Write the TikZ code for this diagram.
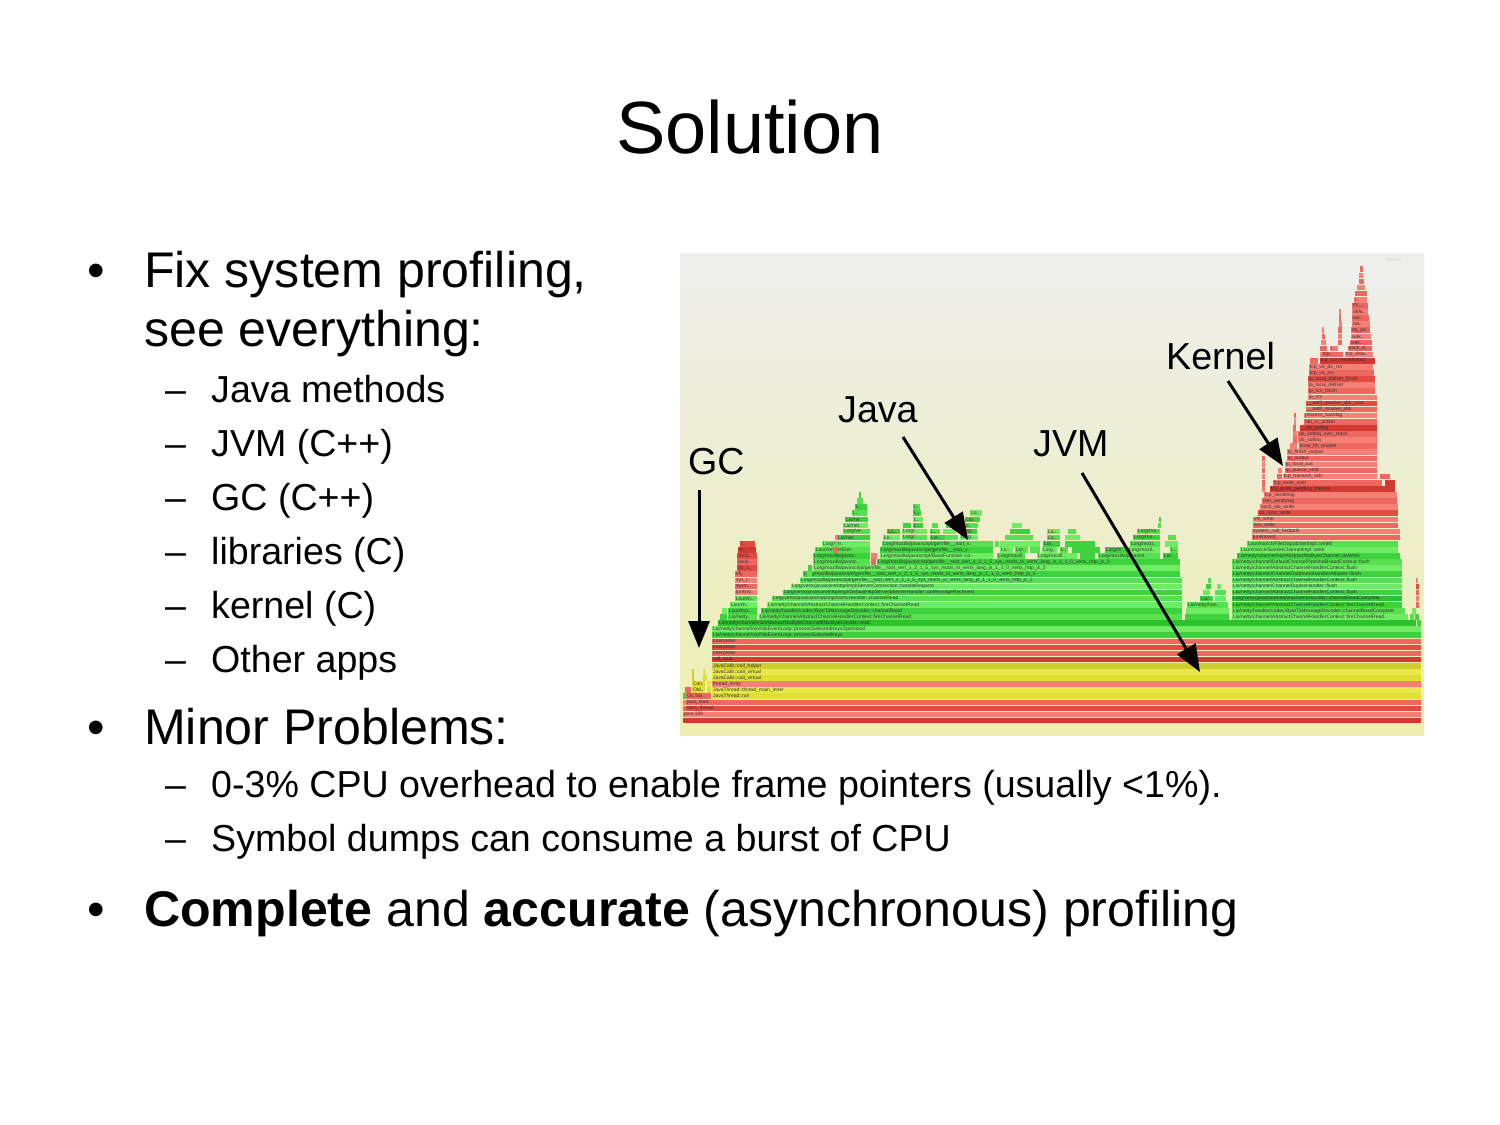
\documentclass[tikz,border=0pt]{standalone}
\usepackage{fontspec}
\setmainfont{Liberation Sans}
\usetikzlibrary{arrows.meta}

\definecolor{fgtop}{RGB}{238,238,238}
\definecolor{fgbot}{RGB}{238,238,176}
\definecolor{redA}{RGB}{226,74,66}
\definecolor{redB}{RGB}{236,104,96}
\definecolor{redC}{RGB}{246,128,118}
\definecolor{redD}{RGB}{212,56,50}
\definecolor{greenA}{RGB}{62,210,62}
\definecolor{greenB}{RGB}{88,224,80}
\definecolor{greenC}{RGB}{112,236,100}
\definecolor{greenD}{RGB}{44,194,44}
\definecolor{yelA}{RGB}{224,224,52}
\definecolor{yelB}{RGB}{206,206,44}
\definecolor{yelC}{RGB}{232,232,74}

\tikzset{
  flab/.style={anchor=west, inner sep=0pt, font=\fontsize{5}{5}\selectfont, text=black!80},
  lone/.style={anchor=base west, inner sep=0pt, font=\fontsize{50.1}{60}\selectfont},
  ltwo/.style={anchor=base west, inner sep=0pt, font=\fontsize{37.6}{45}\selectfont},
  pointer/.style={line width=3pt, -{Triangle[length=27pt,width=21pt]}},
}

% one frame of the flame graph: row, left, right, colour, label
\newcommand\fgbox[5]{%
  \fill[#4] (#2,{723.4-6.1*#1}) rectangle (#3,{717.8-6.1*#1});
  \node[flab] (f#1-#2) at ({#2+0.8},{720.6-6.1*#1}) {#5};}
\newcommand\jsgen{Lorg/mozilla/javascript/gen/file\_\_root\_vert\_x\_2\_1\_5\_sys\_mods\_io\_vertx\_lang\_js\_1\_1\_0\_vertx\_http\_js\_2}

\begin{document}
\begin{tikzpicture}[x=1pt,y=-1pt]
  \fill[white] (0,0) rectangle (1500,1125);
  \useasboundingbox (0,0) rectangle (1500,1125);

  \node[anchor=base, inner sep=0pt, font=\fontsize{74}{80}\selectfont] (title) at (750,153) {Solution};

  % bullets
  \node[lone] (b1) at (87,287) {•};
  \node[lone] (fix) at (144,287) {Fix system profiling,};
  \node[lone] (see) at (144,346) {see everything:};
  \foreach \i/\y/\t in {1/402/Java methods, 2/456/JVM (C++), 3/510/GC (C++),
                        4/564/libraries (C), 5/618/kernel (C), 6/672/Other apps}
  {
    \node[ltwo] (d\i) at (165,\y) {–};
    \node[ltwo] (s\i) at (211,\y) {\t};
  }
  \node[lone] (b2) at (87,744) {•};
  \node[lone] (minor) at (144,744) {Minor Problems:};
  \node[ltwo] (d7) at (165,797) {–};
  \node[ltwo] (s7) at (211,797) {0-3\% CPU overhead to enable frame pointers (usually <1\%).};
  \node[ltwo] (d8) at (165,851) {–};
  \node[ltwo] (s8) at (211,851) {Symbol dumps can consume a burst of CPU};
  \node[lone] (b3) at (87,926) {•};
  \node[lone] (full) at (144,926) {\bfseries Complete\mdseries{} and \bfseries accurate\mdseries{} (asynchronous) profiling};

  % flame graph
  \shade[top color=fgtop, bottom color=fgbot] (680,253) rectangle (1424,735);
  \node[flab, text=black!15] (search) at (1386,260) {Search};

  \fgbox{0}{683}{1421}{redD}{}
  \fgbox{1}{683}{1421}{redC}{java-339}
  \fgbox{2}{683}{685.5}{redB}{}
  \fgbox{2}{686}{1421}{redA}{start\_thread}
  \fgbox{3}{683}{685.5}{redC}{}
  \fgbox{3}{686}{1421}{redB}{java\_start}
  \fgbox{4}{683}{685.5}{greenA}{}
  \fgbox{4}{686}{711}{redB}{GCTas..}
  \fgbox{4}{712}{1421}{yelA}{JavaThread::run}
  \fgbox{5}{685}{691}{redB}{}
  \fgbox{5}{692}{705}{yelA}{Old..}
  \fgbox{5}{712}{1421}{yelC}{JavaThread::thread\_main\_inner}
  \fgbox{6}{692}{705}{yelA}{Con..}
  \fgbox{6}{712}{1421}{redC}{thread\_entry}
  \fgbox{7}{712}{1421}{yelA}{JavaCalls::call\_virtual}
  \fgbox{8}{712}{1421}{yelC}{JavaCalls::call\_virtual}
  \fgbox{9}{712}{1421}{yelB}{JavaCalls::call\_helper}
  \fgbox{10}{712}{1421}{redD}{call\_stub}
  \fgbox{11}{712}{1421}{redB}{Interpreter}
  \fgbox{12}{712}{1421}{redA}{Interpreter}
  \fgbox{13}{712}{1421}{redB}{Interpreter}
  \fgbox{14}{712}{1421}{greenA}{Lio/netty/channel/nio/NioEventLoop::processSelectedKeys}
  \fgbox{15}{712}{1421}{greenC}{Lio/netty/channel/nio/NioEventLoop::processSelectedKeysOptimized}
  \fgbox{16}{718}{1416}{greenD}{Lio/netty/channel/nio/AbstractNioByteChannel\$NioByteUnsafe::read}

  % small stack left of the java tower
  \fgbox{17}{728}{757}{greenB}{Lio/netty..}
  \fgbox{18}{728}{757}{greenA}{Lsun/mo..}
  \fgbox{19}{730}{757}{greenC}{Lsun/n..}
  \fgbox{20}{735}{757}{greenB}{Lsun/n..}
  \fgbox{21}{735}{757}{redC}{[unkno..}
  \fgbox{22}{735}{757}{redB}{sysm..}
  \fgbox{23}{735}{757}{redC}{sys\_r..}
  \fgbox{24}{735}{757}{redB}{vfs..}
  \fgbox{25}{737}{757}{redA}{do\_s..}
  \fgbox{26}{737}{757}{redB}{sock..}
  \fgbox{27}{737}{757}{redA}{sock..}
  \fgbox{28}{738}{756}{redD}{in..}
  \fgbox{29}{740}{755}{redA}{t..}

  % java tower
  \fgbox{17}{759}{1182}{greenB}{Lio/netty/channel/AbstractChannelHandlerContext::fireChannelRead}
  \fgbox{18}{761}{1182}{greenA}{Lio/netty/handler/codec/ByteToMessageDecoder::channelRead}
  \fgbox{19}{767}{1182}{greenC}{Lio/netty/channel/AbstractChannelHandlerContext::fireChannelRead}
  \fgbox{20}{772}{1182}{greenB}{Lorg/vertx/java/core/net/impl/VertxHandler::channelRead}
  \fgbox{21}{783}{1182}{greenA}{Lorg/vertx/java/core/http/impl/DefaultHttpServer\$ServerHandler::doMessageReceived}
  \fgbox{22}{791}{1182}{greenC}{Lorg/vertx/java/core/http/impl/ServerConnection::handleRequest}
  \fgbox{23}{800}{1182}{greenB}{\jsgen}
  \fgbox{24}{803}{1180}{greenA}{\jsgen}
  \fgbox{25}{813}{1180}{greenC}{\jsgen}
  \fgbox{26}{813}{870}{greenB}{Lorg/mozilla/javasc..}
  \fgbox{26}{877}{1180}{greenA}{\jsgen}
  \fgbox{27}{813}{870}{greenA}{Lorg/mozilla/javas..}
  \fgbox{27}{880}{993}{greenC}{Lorg/mozilla/javascript/BaseFunction::co..}
  \fgbox{27}{997}{1025}{greenB}{Lorg/mozill..}
  \fgbox{27}{1037}{1077}{greenC}{Lorg/mozill..}
  \fgbox{27}{1098}{1160}{greenB}{Lorg/mozilla/javascri..}
  \fgbox{27}{1163}{1178}{greenA}{Lor..}
  \fgbox{28}{815}{870}{greenB}{Lsun/reflect/Del..}
  \fgbox{28}{880}{993}{greenA}{Lorg/mozilla/javascript/gen/file\_\_root\_v..}
  \fgbox{28}{1000}{1013}{greenC}{Lo..}
  \fgbox{28}{1015}{1028}{greenB}{Lor..}
  \fgbox{28}{1042}{1057}{greenC}{Lorg..}
  \fgbox{28}{1060}{1068}{greenB}{L..}
  \fgbox{28}{1105}{1127}{greenA}{Lorg/m..}
  \fgbox{28}{1128}{1160}{greenC}{Lorg/mozil..}
  \fgbox{28}{1170}{1178}{greenB}{L..}
  \fgbox{29}{822}{870}{greenC}{Lorg/ver..}
  \fgbox{29}{882}{993}{greenB}{Lorg/mozilla/javascript/gen/file\_\_root\_v..}
  \fgbox{29}{1043}{1060}{greenA}{Lor..}
  \fgbox{29}{1130}{1160}{greenB}{Lorg/mozi..}
  \fgbox{30}{837}{870}{greenA}{Lio/net..}
  \fgbox{30}{883}{900}{greenC}{Lo..}
  \fgbox{30}{902}{927}{greenB}{Lorg/..}
  \fgbox{30}{930}{945}{greenA}{Lor..}
  \fgbox{30}{960}{978}{greenC}{Lorg..}
  \fgbox{30}{1047}{1060}{greenB}{Lo..}
  \fgbox{30}{1133}{1160}{greenA}{Lorg/mo..}
  \fgbox{31}{843}{870}{greenB}{Lorg/ve..}
  \fgbox{31}{887}{900}{greenA}{Lo..}
  \fgbox{31}{902}{927}{greenC}{Lorg/..}
  \fgbox{31}{930}{940}{greenB}{L..}
  \fgbox{31}{960}{977}{greenA}{Lorg..}
  \fgbox{31}{1047}{1060}{greenC}{Lo..}
  \fgbox{31}{1137}{1160}{greenB}{Lorg/ma..}
  \fgbox{32}{843}{868}{greenC}{Lio/net..}
  \fgbox{32}{913}{923}{greenA}{L..}
  \fgbox{32}{962}{978}{greenB}{Lo..}
  \fgbox{33}{845}{868}{greenA}{Lio/ne..}
  \fgbox{33}{913}{923}{greenC}{L..}
  \fgbox{33}{965}{980}{greenA}{Lor..}
  \fgbox{34}{852}{867}{greenB}{L..}
  \fgbox{34}{913}{921}{greenA}{L..}
  \fgbox{34}{970}{982}{greenC}{Lo..}
  \fgbox{35}{855}{867}{greenA}{L..}
  \fgbox{35}{913}{920}{greenB}{L..}

  % middle cluster and right write tower
  \fgbox{17}{1185}{1229}{greenA}{}
  \fgbox{18}{1186}{1229}{greenC}{}
  \fgbox{19}{1187}{1228}{greenB}{Lio/netty/han..}
  \fgbox{20}{1200}{1213}{greenA}{Lio/..}
  \fgbox{17}{1232}{1408}{greenC}{Lio/netty/channel/AbstractChannelHandlerContext::fireChannelRead..}
  \fgbox{18}{1232}{1405}{greenB}{Lio/netty/handler/codec/ByteToMessageDecoder::channelReadComplete}
  \fgbox{19}{1232}{1402}{greenA}{Lio/netty/channel/AbstractChannelHandlerContext::fireChannelRead..}
  \fgbox{20}{1232}{1402}{greenD}{Lorg/vertx/java/core/net/impl/VertxHandler::channelReadComplete}
  \fgbox{21}{1232}{1402}{greenA}{Lio/netty/channel/AbstractChannelHandlerContext::flush}
  \fgbox{22}{1232}{1402}{greenC}{Lio/netty/channel/ChannelDuplexHandler::flush}
  \fgbox{23}{1232}{1402}{greenB}{Lio/netty/channel/AbstractChannelHandlerContext::flush}
  \fgbox{24}{1232}{1402}{greenA}{Lio/netty/channel/ChannelOutboundHandlerAdapter::flush}
  \fgbox{25}{1232}{1402}{greenC}{Lio/netty/channel/AbstractChannelHandlerContext::flush}
  \fgbox{26}{1232}{1402}{greenB}{Lio/netty/channel/DefaultChannelPipeline\$HeadContext::flush}
  \fgbox{27}{1237}{1400}{greenA}{Lio/netty/channel/nio/AbstractNioByteChannel::doWrite}
  \fgbox{28}{1240}{1398}{greenC}{Lsun/nio/ch/SocketChannelImpl::write}
  \fgbox{29}{1247}{1398}{greenB}{Lsun/nio/ch/FileDispatcherImpl::write0}
  \fgbox{30}{1252}{1400}{redB}{[unknown]}
  \fgbox{31}{1252}{1400}{redC}{system\_call\_fastpath}
  \fgbox{32}{1253}{1398}{redB}{sys\_write}
  \fgbox{33}{1253}{1398}{redC}{vfs\_write}
  \fgbox{34}{1258}{1398}{redA}{do\_sync\_write}
  \fgbox{35}{1260}{1398}{redC}{sock\_aio\_write}
  \fgbox{36}{1262}{1397}{redB}{inet\_sendmsg}
  \fgbox{37}{1264}{1397}{redC}{tcp\_sendmsg}
  \fgbox{38}{1270}{1395}{redD}{tcp\_push\_pending\_frames}
  \fgbox{39}{1273}{1382}{redB}{tcp\_write\_xmit}
  \fgbox{40}{1283}{1377}{redC}{tcp\_transmit\_skb}
  \fgbox{41}{1285}{1377}{redB}{ip\_queue\_xmit}
  \fgbox{42}{1285}{1377}{redC}{ip\_local\_out}
  \fgbox{43}{1287}{1377}{redB}{ip\_output}
  \fgbox{44}{1287}{1377}{redC}{ip\_finish\_output}
  \fgbox{45}{1299}{1377}{redB}{local\_bh\_enable}
  \fgbox{46}{1298}{1377}{redC}{do\_softirq}
  \fgbox{47}{1298}{1377}{redB}{do\_softirq\_own\_stack}
  \fgbox{48}{1300}{1377}{redD}{\_\_do\_softirq}
  \fgbox{49}{1304}{1377}{redB}{net\_rx\_action}
  \fgbox{50}{1304}{1377}{redC}{process\_backlog}
  \fgbox{51}{1306}{1377}{redB}{\_\_netif\_receive\_skb}
  \fgbox{52}{1306}{1377}{redA}{\_\_netif\_receive\_skb\_core}
  \fgbox{53}{1308}{1377}{redC}{ip\_rcv}
  \fgbox{54}{1308}{1375}{redB}{ip\_rcv\_finish}
  \fgbox{55}{1308}{1375}{redC}{ip\_local\_deliver}
  \fgbox{56}{1308}{1375}{redA}{ip\_local\_deliver\_finish}
  \fgbox{57}{1309}{1374}{redB}{tcp\_v4\_rcv}
  \fgbox{58}{1309}{1373}{redC}{tcp\_v4\_do\_rcv}
  \fgbox{59}{1320}{1375}{redD}{tcp\_rcv\_established}
  \fgbox{60}{1322}{1343}{redB}{tcp..}
  \fgbox{60}{1345}{1373}{redC}{tcp\_data..}
  \fgbox{61}{1330}{1338}{redC}{t..}
  \fgbox{61}{1348}{1372}{redB}{sock\_d..}
  \fgbox{62}{1350}{1372}{redB}{wak..}
  \fgbox{63}{1351}{1371}{redC}{wak..}
  \fgbox{64}{1351}{1370}{redB}{ep\_po..}
  \fgbox{65}{1352}{1370}{redC}{wa..}
  \fgbox{66}{1352}{1369}{redB}{wa..}
  \fgbox{67}{1352}{1368}{redC}{defa..}
  \fgbox{68}{1352}{1368}{redB}{try\_..}
  \fgbox{69}{1354}{1367}{redC}{t..}

  % unlabelled slivers
  \foreach \k/\a/\b/\c in {7/703/707/yelA, 8/703/706/yelC, 7/692/694/yelB, 8/692/693.5/yelB,
      6/707/711/yelC, 5/707/711/yelA, 16/1417/1421/greenA, 17/1410/1414/greenB, 17/1415/1419/greenA,
      18/1412/1416/greenC, 19/1416/1419/redB, 20/1416/1419/redC, 21/1416/1418.5/redB,
      22/1416/1418.5/redA, 23/1416/1418/redC, 17/720/727/greenA, 18/722/727/greenC,
      21/1215/1226/greenB, 21/1203/1210/greenC, 22/1206/1211/greenA, 23/1208/1211/greenB,
      20/1215/1226/greenC, 22/1217/1221/greenC,
      24/807/812/greenB, 25/808/812/greenA, 26/871/876/redB, 27/871/877/redC,
      28/833/837/redB, 29/835/838/greenB, 30/835/837/redC, 28/1072/1100/greenA, 29/1000/1040/greenC,
      29/1065/1095/greenA, 30/1005/1033/greenB, 31/1010/1030/greenA, 32/1012/1022/greenC,
      27/1080/1095/greenA, 30/945/958/greenB, 31/943/956/greenC, 32/946/952/greenA,
      29/995/999/greenB, 30/1065/1080/greenC, 31/1068/1076/greenB, 28/1030/1040/greenB,
      29/1165/1178/greenC, 30/1168/1176/greenB, 32/1158/1161/greenB, 33/1159/1161/greenA,
      32/903/911/greenA, 36/857/863/greenB, 37/859/861/greenA, 32/932/938/greenB,
      36/1378/1386/redB, 37/1380/1390/redC, 39/1385/1395/redD, 40/1380/1390/redB,
      38/1262/1265/redC, 39/1262/1265/redB, 40/1262/1265/redC, 41/1262/1265/redB,
      42/1262/1265/redC, 43/1262/1265/redB, 40/1277/1282/redB, 41/1278/1282/redC,
      45/1290/1297/redC, 46/1293/1297/redB, 47/1293/1297/redC, 48/1293/1296/redB,
      49/1294/1296/redC, 50/1294/1296/redB, 59/1310/1318/redB, 60/1320/1321.5/redC,
      61/1320/1327/redB, 62/1321/1326/redC, 63/1322/1325/redB, 64/1322/1324/redC,
      62/1338/1342/redB, 63/1338/1342/redC, 64/1338/1342/redB, 65/1339/1342/redC,
      66/1339/1341/redB, 67/1339/1341/redC, 70/1355/1367/redB, 71/1357/1365/redC,
      72/1359/1364/redB, 73/1359/1363/redC, 74/1360/1363/redB}
    \fill[\c] (\a,{723.4-6.1*\k}) rectangle (\b,{717.8-6.1*\k});

  % callouts
  \node[ltwo] (gc) at (688,474) {GC};
  \node[ltwo] (java) at (838,422) {Java};
  \node[ltwo] (jvm) at (1033,456) {JVM};
  \node[ltwo] (kernel) at (1166,369) {Kernel};
  \coordinate (gc-tail) at (699,490);
  \coordinate (gc-tip) at (699,648);
  \coordinate (java-tail) at (903,437);
  \coordinate (java-tip) at (968,540);
  \coordinate (jvm-tail) at (1082,473);
  \coordinate (jvm-tip) at (1200,672);
  \coordinate (kernel-tail) at (1228,381);
  \coordinate (kernel-tip) at (1283,466);
  \draw[pointer] (gc-tail) -- (gc-tip);
  \draw[pointer] (java-tail) -- (java-tip);
  \draw[pointer] (jvm-tail) -- (jvm-tip);
  \draw[pointer] (kernel-tail) -- (kernel-tip);
\end{tikzpicture}
\end{document}
